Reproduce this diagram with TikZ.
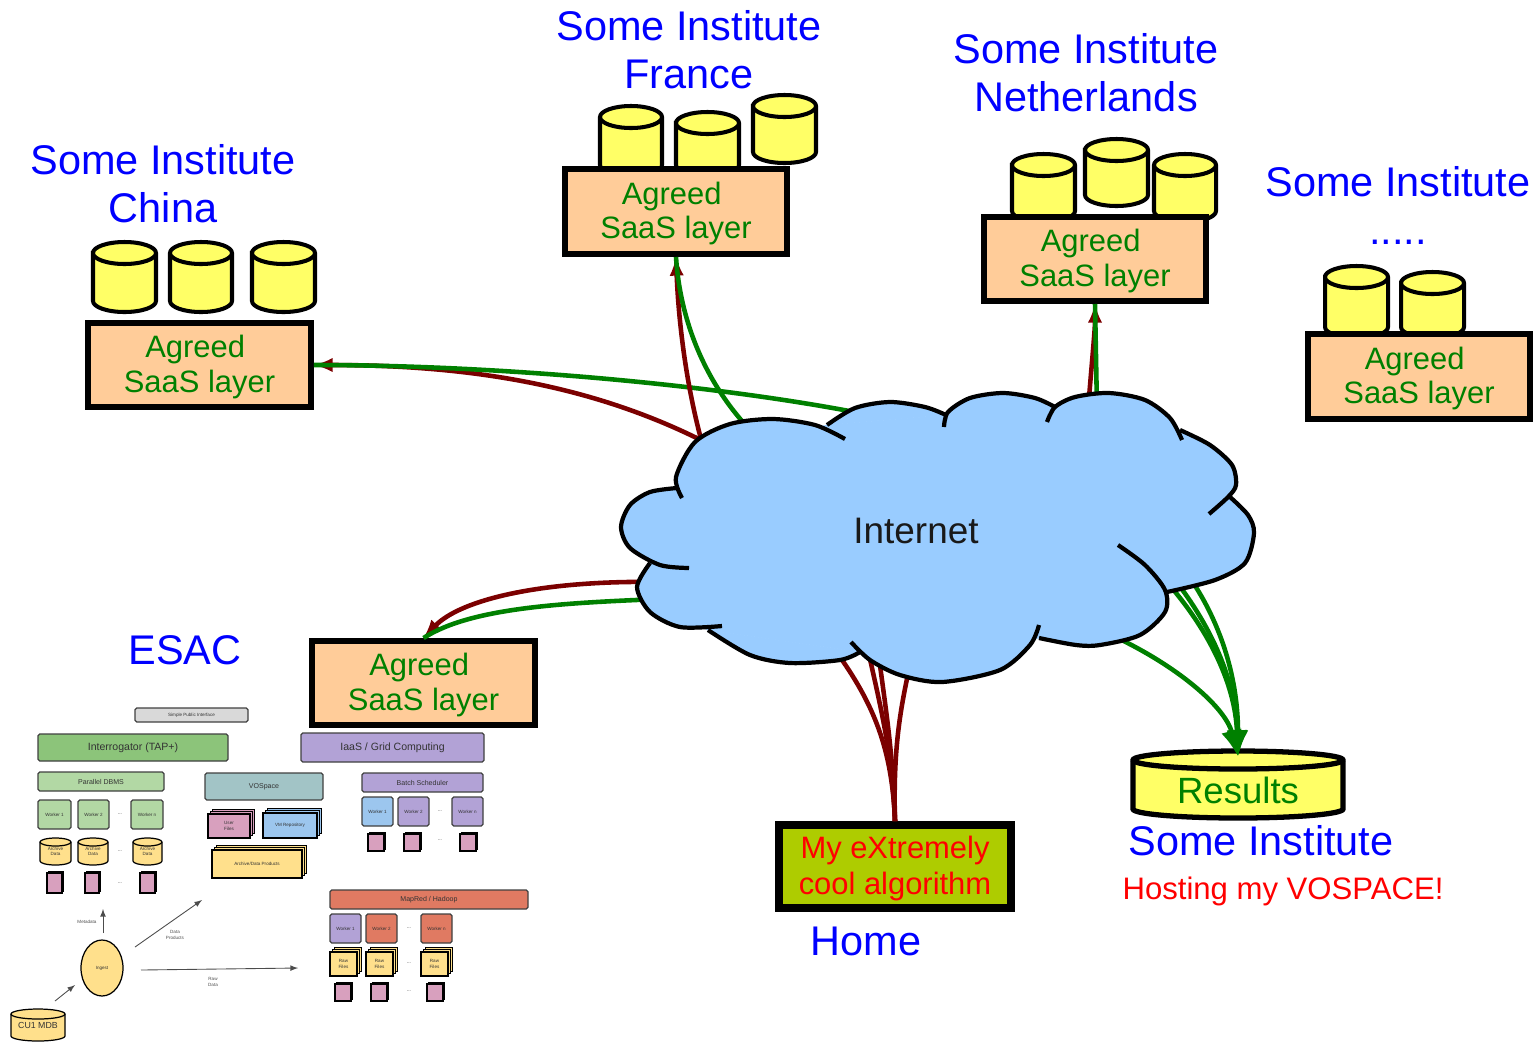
\documentclass[tikz,border=0pt]{standalone}
\usepackage{fontspec}
\setmainfont{Liberation Sans}
\usetikzlibrary{shapes.geometric,shadows,arrows.meta}
\definecolor{bleunuage}{HTML}{99CCFF}
\definecolor{peche}{HTML}{FFCC99}
\definecolor{jaune}{HTML}{FFFF66}
\definecolor{olive}{HTML}{AECC00}
\definecolor{bordeaux}{HTML}{7B0000}
\definecolor{vert}{HTML}{008000}
\definecolor{vertfonce}{HTML}{8CC47A}
\definecolor{vertclair}{HTML}{B2D8A4}
\definecolor{mauve}{HTML}{B2A2D6}
\definecolor{ciel}{HTML}{9CC6EE}
\definecolor{sarcelle}{HTML}{A2C4C6}
\definecolor{rose}{HTML}{D8A0BE}
\definecolor{brique}{HTML}{E07A62}
\definecolor{sable}{HTML}{FFE08C}
\begin{document}
\begin{tikzpicture}[x=0.02cm,y=-0.02cm]
% Styles
\tikzstyle{titre}=[blue,font=\fontsize{23.6}{27.3}\selectfont,align=center]
\tikzstyle{couche}=[draw=black,line width=3.4pt,fill=peche,text=vert,inner sep=0pt,align=center,font=\fontsize{17.6}{19.4}\selectfont]
\tikzstyle{bidon}=[draw=black,line width=2.3pt,fill=jaune]
\tikzstyle{nuage}=[black,line width=2.4pt]
\tikzstyle{liaison}=[line width=2.6pt]
\tikzstyle{fleche}=[->,>=latex,line width=2.6pt]
\tikzstyle{grande}=[-{Latex[length=15pt,width=12pt]},line width=2.6pt]
\tikzstyle{petit}=[draw=black!75,line width=0.7pt,inner sep=0pt,align=center,text=black!80,rounded corners=1pt]
\tikzstyle{mince}=[->,>=latex,draw=black!70,line width=0.5pt]
\tikzstyle{feuille}=[draw=black,line width=0.7pt,fill=rose,inner sep=0pt,copy shadow={shadow xshift=0.8pt,shadow yshift=0.8pt,draw=black,fill=black}]
\tikzstyle{pile}=[draw=black,line width=0.6pt,inner sep=0pt,align=center,text=black!80,double copy shadow={shadow xshift=1.2pt,shadow yshift=1.2pt,draw=black}]
\tikzstyle{minibidon}=[draw=black,line width=0.7pt,fill=sable]
\tikzstyle{minitexte}=[inner sep=0pt,align=center,text=black!80]
% Dimensions
\def\Px{0.02cm}
\def\bloc#1#2#3#4#5#6#7{\node[#2,minimum width={(#5-#3)*\Px},minimum height={(#6-#4)*\Px}] (#1) at ({(#3+#5)/2},{(#4+#6)/2}) {#7};}
% nom, style, x1, y1, x2, y2, rayon, style du texte, texte
\def\bidonnet#1#2#3#4#5#6#7#8#9{%
\draw[#2] (#3,{#4+#7}) -- (#3,{#6-#7}) arc[start angle=180,end angle=360,x radius={(#5-#3)/2*\Px},y radius={#7*\Px}] -- (#5,{#4+#7}) arc[start angle=0,end angle=180,x radius={(#5-#3)/2*\Px},y radius={#7*\Px}] -- cycle;
\draw[#2] (#3,{#4+#7}) arc[start angle=180,end angle=360,x radius={(#5-#3)/2*\Px},y radius={#7*\Px}];
\node[#8,minimum width={(#5-#3)*\Px},minimum height={(#6-#4)*\Px}] (#1) at ({(#3+#5)/2},{(#4+#6)/2}) {#9};}
\def\tresPetit{\fontsize{2.6}{3}\selectfont}
\def\assezPetit{\fontsize{4}{4.6}\selectfont}
\def\moyen{\fontsize{6}{7}\selectfont}
\def\accord{\rule{0pt}{15pt}\hspace*{-5pt}Agreed\\SaaS layer}
\useasboundingbox (0,0) rectangle (1540,1042);
% Titres
\node[titre] (tchine) at (163,184) {Some Institute\\China};
\node[titre] (tfrance) at (689,50) {Some Institute\\France};
\node[titre] (tpaysbas) at (1086,73) {Some Institute\\Netherlands};
\node[titre] (tautre) at (1398,205) {Some Institute\\.....};
\node[titre] (tesac) at (185,650) {ESAC};
\node[titre] (thome) at (866,941) {Home};
\node[titre] (tresultats) at (1261,841) {Some Institute};
\node[red,font=\fontsize{17.7}{20}\selectfont] (tvospace) at (1283,891) {Hosting my VOSPACE!};
% Bidons
\bidonnet{cA}{bidon}{93}{242}{156}{312}{11}{}{}
\bidonnet{cB}{bidon}{170}{242}{232}{312}{11}{}{}
\bidonnet{cC}{bidon}{252}{242}{315}{312}{11}{}{}
\bidonnet{fA}{bidon}{600}{106}{662}{176}{11}{}{}
\bidonnet{fB}{bidon}{676}{112}{739}{176}{11}{}{}
\bidonnet{fC}{bidon}{753}{95}{816}{163}{11}{}{}
\bidonnet{nA}{bidon}{1012}{154}{1075}{222}{11}{}{}
\bidonnet{nB}{bidon}{1085}{139}{1148}{206}{11}{}{}
\bidonnet{nC}{bidon}{1154}{154}{1216}{222}{11}{}{}
\bidonnet{aA}{bidon}{1325}{266}{1388}{338}{11}{}{}
\bidonnet{aB}{bidon}{1401}{272}{1464}{338}{11}{}{}
% Couches
\bloc{chine}{couche}{88}{323}{311}{407}{\accord}
\bloc{france}{couche}{565}{169}{787}{254}{\accord}
\bloc{paysbas}{couche}{984}{217}{1206}{301}{\accord}
\bloc{autre}{couche}{1308}{334}{1530}{419}{\accord}
\bloc{esac}{couche}{312}{641}{535}{725}{\accord}
\bloc{home}{couche,line width=4.4pt,fill=olive,text=red,font=\fontsize{17.6}{20}\selectfont}{779}{825}{1011}{908}{\rule{0pt}{15pt}My eXtremely\\cool algorithm}
\bidonnet{resultats}{bidon,line width=3pt}{1133}{751}{1343}{818}{9}{text=vert,inner sep=0pt,font=\fontsize{20.8}{24}\selectfont,yshift=-3.4pt}{Results}
% Points sur le nuage
\coordinate (pChineR) at (720,450);
\coordinate (pChineV) at (870,415);
\coordinate (pFranceR) at (704,450);
\coordinate (pFranceV) at (755,435);
\coordinate (pPaysR) at (1088,410);
\coordinate (pPaysV) at (1097,410);
\coordinate (pEsacR) at (660,582);
\coordinate (pEsacV) at (660,599);
\coordinate (pHomeA) at (835,650);
\coordinate (pHomeB) at (868,650);
\coordinate (pHomeC) at (878,650);
\coordinate (pHomeD) at (910,665);
\coordinate (pResA) at (1100,630);
\coordinate (pResB) at (1165,580);
\coordinate (pResC) at (1175,580);
\coordinate (pResD) at (1190,578);
% Liaisons
\draw[fleche,bordeaux] (pChineR) .. controls (600,385) and (470,365) .. (chine.east);
\draw[liaison,vert] (pChineV) .. controls (720,385) and (500,365) .. (chine.east);
\draw[fleche,bordeaux] (pFranceR) .. controls (684,380) and (678,310) .. (france.south);
\draw[liaison,vert] (pFranceV) .. controls (705,385) and (680,320) .. (france.south);
\draw[fleche,bordeaux] (pPaysR) .. controls (1092,360) and (1095,330) .. (paysbas.south);
\draw[liaison,vert] (pPaysV) -- (paysbas.south);
\draw[fleche,bordeaux] (pEsacR) .. controls (540,580) and (460,600) .. (esac.north);
\draw[liaison,vert] (pEsacV) .. controls (560,603) and (470,608) .. (esac.north);
\draw[liaison,bordeaux] (pHomeA) .. controls (875,705) and (892,750) .. (home.north);
\draw[liaison,bordeaux] (pHomeB) .. controls (880,705) and (892,750) .. (home.north);
\draw[liaison,bordeaux] (pHomeC) .. controls (885,705) and (893,750) .. (home.north);
\draw[liaison,bordeaux] (pHomeD) .. controls (900,710) and (893,750) .. (home.north);
\draw[grande,vert] (pResA) .. controls (1170,660) and (1225,705) .. (resultats.north);
\draw[grande,vert] (pResB) .. controls (1205,625) and (1235,680) .. (resultats.north);
\draw[grande,vert] (pResC) .. controls (1210,625) and (1236,680) .. (resultats.north);
\draw[grande,vert] (pResD) .. controls (1222,625) and (1238,680) .. (resultats.north);
% Nuage
\def\lobeA{plot[smooth] coordinates {(682,498) (676,477) (695,442) (730,424) (773,419) (815,425) (845,439)}}
\def\lobeB{plot[smooth] coordinates {(827,425) (855,408) (890,402) (925,407) (946,415)}}
\def\lobeC{plot[smooth] coordinates {(944,427) (948,412) (970,398) (1003,393) (1035,398) (1055,407)}}
\def\lobeD{plot[smooth] coordinates {(1047,422) (1055,407) (1075,397) (1109,393) (1145,400) (1170,418) (1182,440)}}
\def\lobeE{plot[smooth] coordinates {(1180,430) (1210,445) (1232,465) (1236,485) (1228,497) (1209,514)}}
\def\lobeF{plot[smooth] coordinates {(1230,497) (1248,515) (1254,533) (1245,563) (1215,580) (1167,592)}}
\def\lobeG{plot[smooth] coordinates {(1118,545) (1145,565) (1165,590) (1165,612) (1140,635) (1100,645) (1076,645) (1039,638)}}
\def\lobeH{plot[smooth] coordinates {(1039,625) (1030,645) (1000,670) (942,682) (900,675) (870,660) (851,642)}}
\def\lobeI{plot[smooth] coordinates {(860,652) (840,660) (790,663) (750,655) (708,630)}}
\def\lobeJ{plot[smooth] coordinates {(722,626) (680,627) (650,612) (637,587) (650,563)}}
\def\lobeK{plot[smooth] coordinates {(689,568) (660,565) (630,548) (621,527) (630,505) (650,492) (677,488)}}
\fill[bleunuage] (682,498) -- (676,477) -- (695,442) -- (827,425) -- (946,415) -- (1055,407) -- (1182,440) -- (1236,485) -- (1230,497) -- (1254,533) -- (1167,592) -- (1165,612) -- (1039,638) -- (942,675) -- (860,652) -- (708,630) -- (650,612) -- (637,587) -- (650,563) -- (621,527) -- (677,488) -- cycle;
\foreach \lobe in {\lobeA,\lobeB,\lobeC,\lobeD,\lobeE,\lobeF,\lobeG,\lobeH,\lobeI,\lobeJ,\lobeK}
  \filldraw[fill=bleunuage,draw=bleunuage,line width=0.5pt] \lobe -- cycle;
\foreach \lobe in {\lobeA,\lobeB,\lobeC,\lobeD,\lobeE,\lobeF,\lobeG,\lobeH,\lobeI,\lobeJ,\lobeK}
  \draw[nuage] \lobe;
\node[font=\fontsize{21}{24}\selectfont,text=black!90] (internet) at (916,531) {Internet};
% ESAC : colonne de gauche
\bloc{spi}{petit,fill=black!15,font=\tresPetit}{135}{708}{248}{722}{Simple Public Interface}
\bloc{tap}{petit,fill=vertfonce,font=\moyen}{38}{734}{228}{761}{Interrogator (TAP+)}
\bloc{dbms}{petit,fill=vertclair,font=\assezPetit}{38}{772}{164}{791}{Parallel DBMS}
\bloc{wA}{petit,fill=vertclair,font=\tresPetit}{38}{800}{71}{829}{Worker 1}
\bloc{wB}{petit,fill=vertclair,font=\tresPetit}{78}{800}{109}{829}{Worker 2}
\bloc{wC}{petit,fill=vertclair,font=\tresPetit}{131}{800}{163}{829}{Worker n}
\bidonnet{dA}{minibidon}{40}{838}{71}{865}{4}{minitexte,font=\tresPetit}{Archive\\Data}
\bidonnet{dB}{minibidon}{78}{838}{108}{865}{4}{minitexte,font=\tresPetit}{Archive\\Data}
\bidonnet{dC}{minibidon}{133}{838}{162}{865}{4}{minitexte,font=\tresPetit}{Archive\\Data}
\bloc{gA}{feuille}{47}{873}{62}{893}{}
\bloc{gB}{feuille}{85}{873}{99}{893}{}
\bloc{gC}{feuille}{140}{873}{155}{893}{}
\node[font=\tresPetit] (ptsA) at (120,814) {...};
\node[font=\tresPetit] (ptsB) at (120,851) {...};
\node[font=\tresPetit] (ptsC) at (120,883) {...};
% ESAC : VOSpace
\bloc{vos}{petit,fill=sarcelle,font=\assezPetit}{205}{773}{323}{800}{VOSpace}
\bloc{user}{pile,fill=rose,font=\tresPetit}{208}{814}{250}{838}{User\\Files}
\bloc{vm}{pile,fill=ciel,font=\tresPetit}{263}{813}{317}{838}{VM Repository}
\bloc{arch}{pile,fill=sable,font=\tresPetit}{212}{850}{302}{878}{Archive/Data Products}
% ESAC : ingestion
\node[draw=black,line width=0.7pt,fill=sable,ellipse,inner sep=0pt,minimum width=42*\Px,minimum height=56*\Px,font=\tresPetit,text=black!80] (ingest) at (102,968) {Ingest};
\bidonnet{mdb}{minibidon}{11}{1009}{65}{1041}{5}{minitexte,font=\fontsize{5}{6}\selectfont}{CU1 MDB}
\coordinate (bMeta) at (103,909);
\coordinate (bProd) at (202,900);
\coordinate (bRaw) at (298,968);
\coordinate (aMeta) at (103,933);
\coordinate (aProd) at (135,947);
\coordinate (aRaw) at (141,970);
\coordinate (aMdb) at (55,1001);
\coordinate (bMdb) at (75,985);
\draw[mince] (aMeta) -- (bMeta);
\draw[mince] (aProd) -- (bProd);
\draw[mince] (aRaw) -- (bRaw);
\draw[mince] (aMdb) -- (bMdb);
\node[font=\tresPetit,text=black!70] (lMeta) at (87,922) {Metadata};
\node[font=\tresPetit,text=black!70,align=center] (lProd) at (175,935) {Data\\Products};
\node[font=\tresPetit,text=black!70,align=center] (lRaw) at (213,982) {Raw\\Data};
% ESAC : colonne de droite
\bloc{iaas}{petit,fill=mauve,font=\moyen}{301}{733}{484}{762}{IaaS / Grid Computing}
\bloc{batch}{petit,fill=mauve,font=\assezPetit}{362}{773}{483}{792}{Batch Scheduler}
\bloc{bA}{petit,fill=ciel,font=\tresPetit}{362}{797}{393}{826}{Worker 1}
\bloc{bB}{petit,fill=mauve,font=\tresPetit}{398}{797}{429}{826}{Worker 2}
\bloc{bC}{petit,fill=mauve,font=\tresPetit}{452}{797}{483}{826}{Worker n}
\bloc{hA}{feuille}{368}{834}{384}{851}{}
\bloc{hB}{feuille}{404}{834}{420}{851}{}
\bloc{hC}{feuille}{460}{834}{476}{851}{}
\node[font=\tresPetit] (ptsD) at (440,811) {...};
\node[font=\tresPetit] (ptsE) at (440,840) {...};
\bloc{map}{petit,fill=brique,font=\assezPetit}{330}{890}{528}{909}{MapRed / Hadoop}
\bloc{mA}{petit,fill=mauve,font=\tresPetit}{330}{914}{361}{943}{Worker 1}
\bloc{mB}{petit,fill=brique,font=\tresPetit}{366}{914}{397}{943}{Worker 2}
\bloc{mC}{petit,fill=brique,font=\tresPetit}{421}{914}{452}{943}{Worker n}
\bloc{rA}{pile,fill=sable,font=\tresPetit}{330}{952}{357}{976}{Raw\\Files}
\bloc{rB}{pile,fill=sable,font=\tresPetit}{366}{952}{393}{976}{Raw\\Files}
\bloc{rC}{pile,fill=sable,font=\tresPetit}{421}{952}{448}{976}{Raw\\Files}
\bloc{kA}{feuille}{335}{984}{351}{1001}{}
\bloc{kB}{feuille}{371}{984}{387}{1001}{}
\bloc{kC}{feuille}{427}{984}{443}{1001}{}
\node[font=\tresPetit] (ptsF) at (409,928) {...};
\node[font=\tresPetit] (ptsG) at (409,963) {...};
\node[font=\tresPetit] (ptsH) at (409,991) {...};
\end{tikzpicture}
\end{document}
